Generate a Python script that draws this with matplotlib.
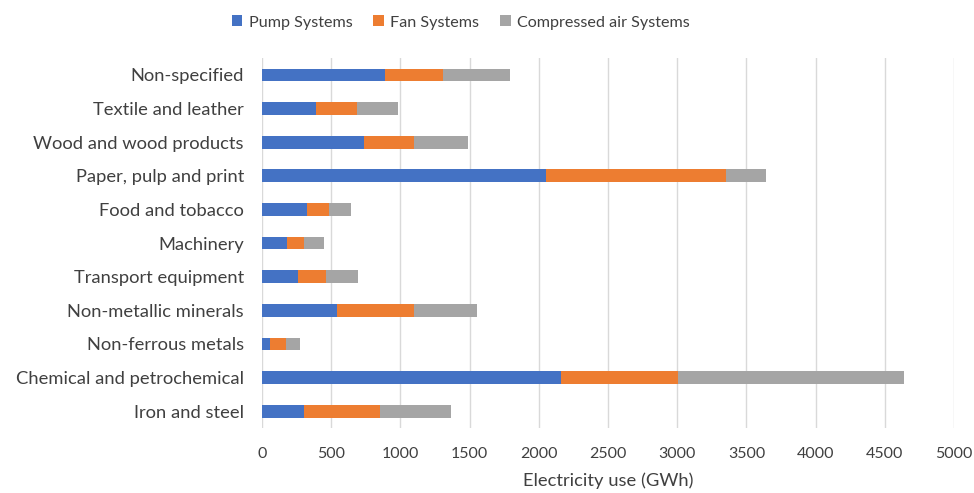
import numpy as np
import matplotlib.pyplot as plt

# electricity use by motor system and industry sector (GWh)
sectors = ['Iron and steel', 'Chemical and petrochemical', 'Non-ferrous metals',
           'Non-metallic minerals', 'Transport equipment', 'Machinery',
           'Food and tobacco', 'Paper, pulp and print', 'Wood and wood products',
           'Textile and leather', 'Non-specified']
pump = [300, 2160, 55, 540, 260, 180, 325, 2055, 740, 390, 890]
fan = [555, 845, 120, 555, 205, 125, 160, 1295, 355, 295, 415]
air = [510, 1635, 100, 460, 225, 140, 160, 290, 395, 300, 485]

plt.rcParams['font.family'] = ['Lato', 'DejaVu Sans']

fig = plt.figure(figsize=(9.74, 4.93), dpi=100)
ax = fig.add_axes([0.269, 0.132, 0.7105, 0.75])

y = np.arange(len(sectors))
h = 0.38
ax.barh(y, pump, height=h, color='#4472C4', label='Pump Systems', zorder=3)
ax.barh(y, fan, left=pump, height=h, color='#ED7D31', label='Fan Systems', zorder=3)
left2 = np.array(pump) + np.array(fan)
ax.barh(y, air, left=left2, height=h, color='#A5A5A5', label='Compressed air Systems', zorder=3)

ax.set_xlim(0, 5000)
ax.set_ylim(-0.5, len(sectors) - 0.5)
ax.set_xticks(np.arange(0, 5001, 500))
ax.set_yticks(y)
ax.set_yticklabels(sectors)
ax.grid(axis='x', color='#D9D9D9', linewidth=1, zorder=0)
for s in ax.spines.values():
    s.set_visible(False)
ax.tick_params(axis='both', length=0, colors='#404040')
ax.tick_params(axis='y', labelsize=13.2, pad=13)
ax.tick_params(axis='x', labelsize=11.5, pad=14)
ax.set_xlabel('Electricity use (GWh)', fontsize=13.2, color='#404040', labelpad=8)

fig.legend(loc='upper center', bbox_to_anchor=(0.473, 0.998), ncol=3, frameon=False,
           fontsize=11.6, handlelength=0.65, handleheight=0.65, columnspacing=1.3,
           handletextpad=0.4, labelcolor='#404040')

fig.savefig('out.png', dpi=100)
